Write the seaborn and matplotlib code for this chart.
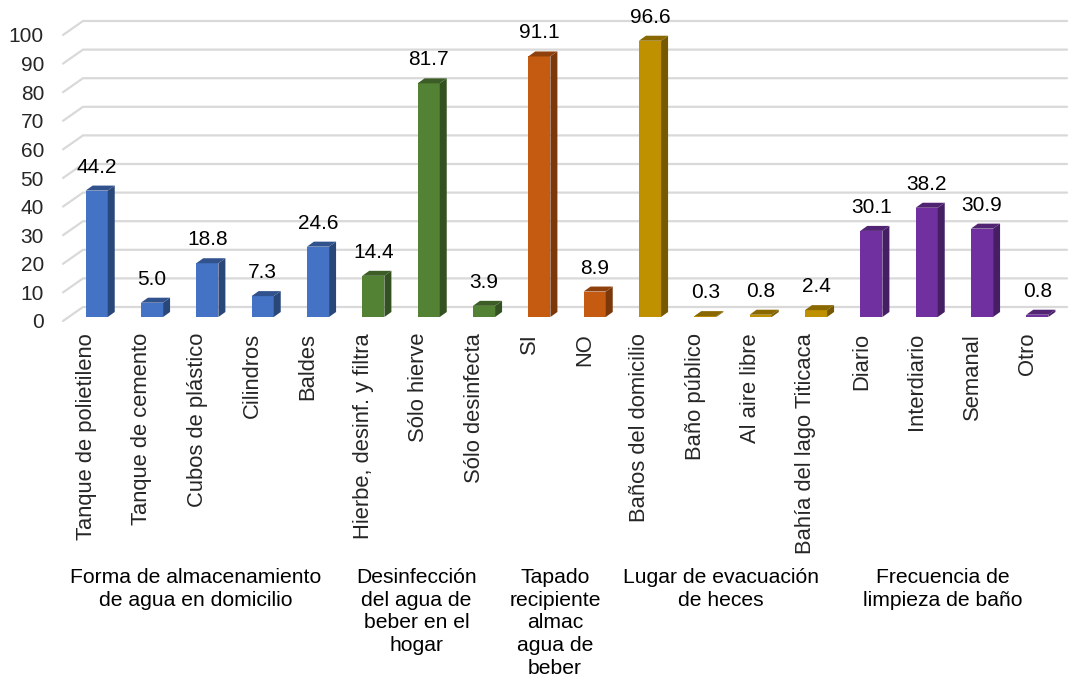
import numpy as np
import pandas as pd
import matplotlib.pyplot as plt
import seaborn as sns
from matplotlib.patches import Polygon
from matplotlib.lines import Line2D
from matplotlib.transforms import IdentityTransform, ScaledTranslation
from matplotlib.colors import to_rgb

categories = [
    'Tanque de polietileno', 'Tanque de cemento', 'Cubos de plástico', 'Cilindros', 'Baldes',
    'Hierbe, desinf. y filtra', 'Sólo hierve', 'Sólo desinfecta',
    'SI', 'NO',
    'Baños del domicilio', 'Baño público', 'Al aire libre', 'Bahía del lago Titicaca',
    'Diario', 'Interdiario', 'Semanal', 'Otro',
]
values = [44.2, 5.0, 18.8, 7.3, 24.6,
          14.4, 81.7, 3.9,
          91.1, 8.9,
          96.6, 0.3, 0.8, 2.4,
          30.1, 38.2, 30.9, 0.8]
group_keys = ['almac'] * 5 + ['desinf'] * 3 + ['tapado'] * 2 + ['heces'] * 4 + ['limpieza'] * 4
group_order = ['almac', 'desinf', 'tapado', 'heces', 'limpieza']
group_labels = [
    'Forma de almacenamiento\nde agua en domicilio',
    'Desinfección\ndel agua de\nbeber en el\nhogar',
    'Tapado\nrecipiente\nalmac\nagua de\nbeber',
    'Lugar de evacuación\nde heces',
    'Frecuencia de\nlimpieza de baño',
]
group_colors = ['#4472C4', '#548235', '#C55A11', '#BF9000', '#7030A0']

df = pd.DataFrame({'cat': categories, 'val': values, 'grp': group_keys})

sns.set_style('white')
plt.rcParams['font.family'] = ['Liberation Sans', 'DejaVu Sans']

W, H = 1072, 691
fig = plt.figure(figsize=(W / 100, H / 100), dpi=100)
ax = fig.add_axes([69 / W, (H - 317) / H, 996 / W, 286 / H])
ax.set_facecolor('none')

sns.barplot(data=df, x='cat', y='val', hue='grp', hue_order=group_order,
            palette=dict(zip(group_order, group_colors)), order=categories,
            dodge=False, width=0.4, saturation=1, legend=False, linewidth=0, ax=ax)

ax.set_xlim(-0.5, len(categories) - 0.5)
ax.set_ylim(0, 100)
ax.set_yticks(range(0, 101, 10))
sns.despine(ax=ax, left=True, bottom=True)

# back wall gridlines (3D look)
L = ax.transAxes.transform((0, 0))[0]
R = ax.transAxes.transform((1, 0))[0]
for v in range(0, 101, 10):
    yd = ax.transData.transform((0, v))[1]
    ln = Line2D([L - 6, L + 14, R + 2], [yd - 4, yd + 10, yd + 10],
                transform=IdentityTransform(), color='#D9D9D9', lw=1.6,
                zorder=0.5, clip_on=False)
    ax.add_line(ln)

# depth faces for bars
ddx, ddy = 7, 5
for p in list(ax.patches):
    h = p.get_height()
    if np.isnan(h):
        continue
    x0 = p.get_x()
    x1 = x0 + p.get_width()
    (px0, py0), (px1, py1) = ax.transData.transform([(x0, 0), (x1, h)])
    c = np.array(to_rgb(p.get_facecolor()))
    side = Polygon([(px1, py0), (px1 + ddx, py0 + ddy), (px1 + ddx, py1 + ddy), (px1, py1)],
                   closed=True, transform=IdentityTransform(), facecolor=c * 0.62,
                   edgecolor='none', zorder=2, clip_on=False)
    top = Polygon([(px0, py1), (px0 + ddx, py1 + ddy), (px1 + ddx, py1 + ddy), (px1, py1)],
                  closed=True, transform=IdentityTransform(), facecolor=c * 0.72,
                  edgecolor='none', zorder=2, clip_on=False)
    ax.add_patch(side)
    ax.add_patch(top)
    p.set_zorder(2)
    p.set_clip_on(False)
    ax.annotate(f'{h:.1f}', xy=(x0 + p.get_width() / 2, h), xytext=(0, 18),
                textcoords='offset pixels', ha='center', va='baseline',
                fontsize=15, color='black')

ax.set_xlabel('')
ax.set_ylabel('')
ax.tick_params(axis='both', length=0)
ax.tick_params(axis='x', pad=11.5, labelsize=15.8)
ax.tick_params(axis='y', pad=18, labelsize=15)
plt.setp(ax.get_xticklabels(), rotation=90)
for lab in ax.get_xticklabels():
    lab.set_transform(lab.get_transform() + ScaledTranslation(-0.10, 0, fig.dpi_scale_trans))
for lab in ax.get_yticklabels():
    lab.set_transform(lab.get_transform() + ScaledTranslation(0, -0.04, fig.dpi_scale_trans))

# group labels
pos = np.arange(len(categories))
keys = np.array(group_keys)
for g, text in zip(group_order, group_labels):
    cx = pos[keys == g].mean()
    ax.annotate(text, xy=(cx, 0), xycoords=('data', 'axes fraction'),
                xytext=(-12, -251), textcoords='offset pixels',
                ha='center', va='top', fontsize=15.2, linespacing=1.25,
                color='black', annotation_clip=False)

fig.savefig('out.png', dpi=100)
